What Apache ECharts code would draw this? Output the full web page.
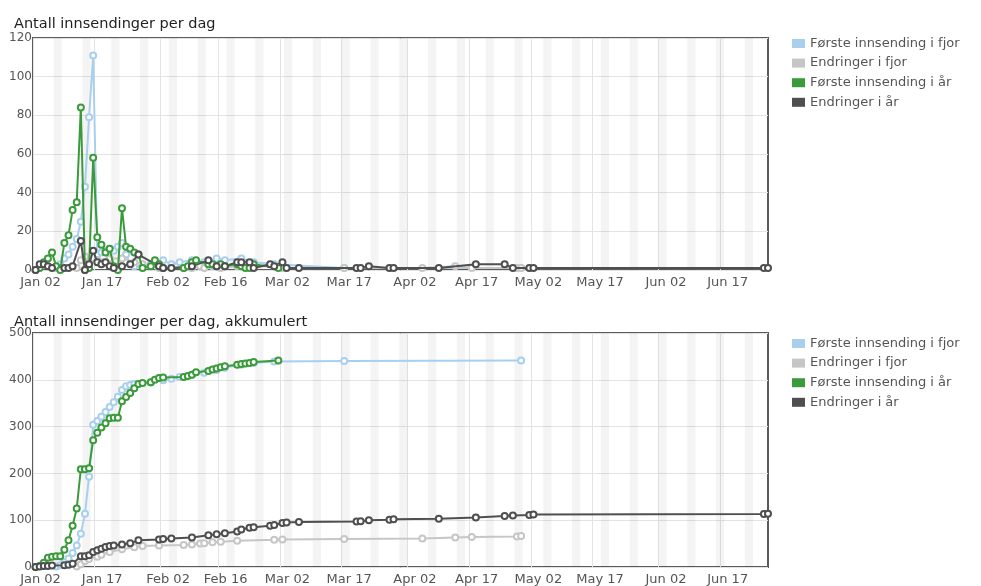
<!DOCTYPE html>
<html>
<head>
<meta charset="utf-8">
<script src="https://cdn.jsdelivr.net/npm/echarts@6/dist/echarts.min.js"></script>
<style>html,body{margin:0;padding:0;background:#fff}#c{width:981px;height:586px}</style>
</head>
<body>
<div id="c"></div>
<script>
// ---------- data (year 2012, dates as MM-DD) ----------
const YEAR = 2012;
const POINT_HOUR = 15; // points sit a little after midnight of their day
const tickDates = ['01-02','01-17','02-02','02-16','03-02','03-17','04-02','04-17','05-02','05-17','06-02','06-17'];
const xStartDate = '01-02';
const xEndDate = '06-28';

const names = ['Første innsending i fjor','Endringer i fjor','Første innsending i år','Endringer i år'];

// Første innsending i fjor
const blueDates = ['01-07','01-08','01-09','01-10','01-11','01-12','01-13','01-14','01-15','01-16',
  '01-17','01-18','01-19','01-20','01-21','01-22','01-23','01-24','01-25','01-26',
  '01-30','02-02','02-04','02-06','02-09','02-12','02-15','02-17','02-21','02-24','02-29','03-17','04-29'];
const blueDaily = [1,3,6,8,12,16,25,43,79,111, 8,9,10,11,10,12,14,8,3,2, 3,5,3,4,5,4,6,5,6,4,3,1,1];
const blueCum   = [1,4,10,18,30,46,71,114,193,304, 312,321,331,342,352,364,378,386,389,391, 394,399,402,406,411,415,421,426,432,436,439,440,441];

// Endringer i fjor
const lgreyDates = ['01-12','01-13','01-14','01-15','01-17','01-18','01-20','01-23','01-26','01-28','02-01','02-07','02-09',
  '02-11','02-12','02-14','02-16','02-20','02-29','03-02','03-17','04-05','04-13','04-17','04-28','04-29'];
const lgreyDaily = [1,5,7,4,5,4,6,6,4,3,1,1,1, 2,1,2,1,2,2,1,1,1,2,1,1,1];
const lgreyCum   = [1,6,13,17,22,26,32,38,42,45,46,47,48, 50,51,53,54,56,58,59,60,61,63,64,65,66];

// Første innsending i år
const greenDates = ['01-02','01-03','01-04','01-05','01-06','01-07','01-08','01-09','01-10','01-11','01-12','01-13','01-14',
  '01-15','01-16','01-17','01-18','01-19','01-20','01-21','01-22','01-23','01-24','01-25','01-26','01-27','01-28',
  '01-30','01-31','02-01','02-02','02-07','02-08','02-09','02-10','02-13','02-14','02-15','02-16','02-17',
  '02-20','02-21','02-22','02-23','02-24','03-01'];
const greenDaily = [0,1,4,6,9,2,0,14,18,31,35,84,0, 1,58,17,13,9,11,2,0,32,12,11,9,8,1,
  2,5,3,1,1,2,4,5,3,3,2,3,2, 3,2,1,1,3,1];
const greenCum = [0,2,9,20,22,23,23,37,57,88,125,209,209, 211,271,287,298,307,318,319,319,354,363,372,382,391,393,
  395,400,404,405,406,408,411,416,419,422,424,427,429, 432,434,435,436,438,441];

// Endringer i år
const darkDates = ['01-02','01-03','01-04','01-05','01-06','01-09','01-10','01-11',
  '01-13','01-14','01-15','01-16','01-17','01-18','01-19','01-20','01-21','01-23','01-25','01-27',
  '02-01','02-02','02-04','02-09','02-13','02-15','02-17','02-20','02-21','02-23','02-24','02-28','02-29',
  '03-02','03-03','03-06','03-20','03-21','03-23','03-28','03-29','04-09','04-18','04-25','04-27',
  '05-01','05-02','06-27','06-28'];
const darkDaily = [0,3,3,2,1,1,1,2, 15,0,3,10,4,3,4,2,1,2,3,8, 2,1,1,2,5,2,2,4,4,4,1,3,2,
  4,1,1,1,1,2,1,1,1,3,3,1, 1,1,1,1];
const darkCum = [0,1,2,2,3,4,5,7, 23,23,25,32,36,39,43,45,46,48,51,57, 59,60,61,63,68,70,72,76,80,84,85,88,90,
  94,95,96,97,98,100,101,102,103,106,109,110, 111,112,113,114];

const colors = ['#a9cfef','#c6c6c6','#3b9b3b','#4f4f4f'];

// ---------- helpers (x = days since the first date) ----------
const DAY = 86400000;
const MON = ['Jan','Feb','Mar','Apr','May','Jun','Jul','Aug','Sep','Oct','Nov','Dec'];
function T(md){ const p = md.split('-').map(Number); return Date.UTC(YEAR, p[0]-1, p[1]); }
const T0 = T(xStartDate);
function dayOf(md){ return (T(md) - T0) / DAY; }
function pts(dates, vals){ return dates.map((d,i)=>[dayOf(d) + POINT_HOUR/24, vals[i]]); }
function fmt(v){ const d = new Date(T0 + Math.round(v)*DAY); return MON[d.getUTCMonth()] + ' ' + String(d.getUTCDate()).padStart(2,'0'); }

const xMin = 0;
const xMax = dayOf(xEndDate) + POINT_HOUR/24;
const tickVals = tickDates.map(dayOf);

// weekend bands (Saturday 00:00 to Monday 00:00)
const weekends = [];
let s = 0;
while (new Date(T0 + s*DAY).getUTCDay() !== 6) s += 1;
for (; s < xMax; s += 7) weekends.push([{xAxis: s}, {xAxis: Math.min(s + 2, xMax)}]);

function xAx(g){
  return {type:'value', gridIndex:g, min:xMin, max:xMax,
    axisLine:{show:false}, axisTick:{show:false, customValues:tickVals},
    axisLabel:{customValues:tickVals, formatter:fmt, color:'#555', fontSize:13, margin:6, padding:[0,0,0,15], hideOverlap:false, showMinLabel:true, showMaxLabel:true},
    splitLine:{show:true, lineStyle:{color:'#e3e3e3', width:1}}};
}
function yAx(g, max, interval){
  return {type:'value', gridIndex:g, min:0, max:max, interval:interval,
    axisLine:{show:false}, axisTick:{show:false},
    axisLabel:{color:'#555', fontSize:12, margin:1, padding:[3,0,0,0]},
    splitLine:{show:true, lineStyle:{color:'#e3e3e3', width:1}}};
}
function line(i, g, dates, vals, z){
  return {name:names[i], type:'line', xAxisIndex:g, yAxisIndex:g, data:pts(dates, vals),
    symbol:'emptyCircle', symbolSize:6, showSymbol:true, z:z,
    itemStyle:{color:colors[i], borderWidth:1.5},
    lineStyle:{color:colors[i], width:2}, emphasis:{disabled:true},
    markArea: i === 0 ? {silent:true, itemStyle:{color:'rgba(0,0,0,0.045)'}, data:weekends} : undefined};
}
function legend(top){
  return {top:top, left:787, orient:'vertical', icon:'rect', itemWidth:13, itemHeight:9, itemGap:4.6,
    data:names.map((n,i)=>({name:n, itemStyle:{color:colors[i]}})),
    textStyle:{fontSize:13, color:'#555', lineHeight:15}};
}

const option = {
  animation:false,
  backgroundColor:'#ffffff',
  textStyle:{fontFamily:'DejaVu Sans'},
  title:[
    {text:'Antall innsendinger per dag', left:9, top:12, textStyle:{fontSize:14.5, fontWeight:'normal', color:'#222'}},
    {text:'Antall innsendinger per dag, akkumulert', left:9, top:310, textStyle:{fontSize:14.5, fontWeight:'normal', color:'#222'}}
  ],
  legend:[legend(31), legend(331)],
  grid:[
    {left:33, top:38, width:735, height:232, show:true, borderColor:'#5b5b5b', borderWidth:2},
    {left:33, top:333, width:735, height:234, show:true, borderColor:'#5b5b5b', borderWidth:2}
  ],
  xAxis:[xAx(0), xAx(1)],
  yAxis:[yAx(0,120,20), yAx(1,500,100)],
  series:[
    line(0,0,blueDates,blueDaily,2),
    line(1,0,lgreyDates,lgreyDaily,2),
    line(2,0,greenDates,greenDaily,3),
    line(3,0,darkDates,darkDaily,3),
    line(0,1,blueDates,blueCum,2),
    line(1,1,lgreyDates,lgreyCum,2),
    line(2,1,greenDates,greenCum,3),
    line(3,1,darkDates,darkCum,3)
  ]
};
const chart = echarts.init(document.getElementById('c'), null, {renderer:'canvas'});
chart.setOption(option);
</script>
</body>
</html>
